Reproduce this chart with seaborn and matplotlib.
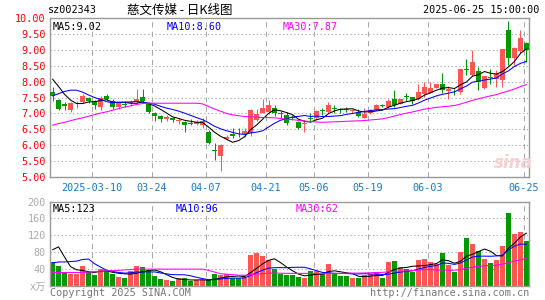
import numpy as np
import pandas as pd
import matplotlib
matplotlib.use("Agg")
import matplotlib.pyplot as plt
import seaborn as sns

# ---------------- data ----------------
opens = [7.68, 7.42, 7.30, 7.10, 7.28, 7.37, 7.49, 7.35, 7.21, 7.56,
         7.40, 7.20, 7.30, 7.32, 7.38, 7.50, 7.29, 7.00, 6.91, 6.83,
         6.84, 6.75, 6.74, 6.71, 6.68, 6.63, 6.42, 5.86, 5.66, 6.18,
         6.35, 6.36, 6.34, 6.37, 6.80, 7.02, 7.03, 7.16, 7.00, 6.95,
         6.88, 6.74, 6.68, 6.86, 6.87, 7.10, 7.05, 7.15, 7.12, 7.13,
         7.06, 7.05, 6.86, 7.00, 7.12, 7.25, 7.19, 7.44, 7.31, 7.53,
         7.50, 7.44, 7.60, 7.65, 7.81, 7.92, 7.70, 7.71, 7.68, 8.41,
         8.21, 8.34, 7.81, 8.14, 8.08, 8.05, 9.63, 8.74, 8.95, 9.22]
highs = [7.82, 7.45, 7.37, 7.36, 7.40, 7.60, 7.52, 7.42, 7.55, 7.60,
         7.45, 7.35, 7.40, 7.42, 7.78, 7.78, 7.35, 7.05, 6.95, 6.94,
         6.90, 6.84, 6.77, 6.81, 6.80, 6.87, 6.47, 6.08, 6.05, 6.32,
         6.55, 6.55, 6.55, 7.13, 7.14, 7.44, 7.42, 7.25, 7.07, 7.05,
         6.95, 6.76, 6.79, 7.02, 7.10, 7.18, 7.35, 7.26, 7.18, 7.20,
         7.15, 7.15, 7.16, 7.15, 7.28, 7.31, 7.45, 7.73, 7.46, 7.63,
         7.52, 7.92, 8.00, 8.00, 7.94, 8.26, 7.86, 7.78, 8.40, 8.70,
         9.00, 8.45, 8.19, 8.39, 8.37, 9.04, 9.91, 9.08, 9.62, 9.23]
lows = [7.40, 7.10, 7.10, 7.05, 7.18, 7.33, 7.33, 7.15, 7.12, 7.43,
        7.13, 7.15, 7.20, 7.23, 7.32, 7.36, 7.00, 6.77, 6.72, 6.75,
        6.72, 6.66, 6.42, 6.62, 6.62, 6.55, 6.05, 5.53, 5.19, 6.15,
        6.24, 6.25, 6.25, 6.30, 6.75, 7.00, 6.98, 6.93, 6.86, 6.63,
        6.80, 6.52, 6.42, 6.73, 6.80, 6.95, 7.00, 7.00, 7.00, 7.03,
        7.02, 6.90, 6.85, 6.98, 7.10, 7.19, 7.17, 7.21, 7.29, 7.40,
        7.30, 7.42, 7.52, 7.63, 7.79, 7.63, 7.44, 7.58, 7.62, 8.20,
        8.18, 7.73, 7.78, 7.94, 7.82, 7.84, 8.53, 8.52, 8.89, 8.63]
closes = [7.55, 7.15, 7.22, 7.32, 7.31, 7.55, 7.40, 7.27, 7.47, 7.46,
          7.20, 7.32, 7.27, 7.35, 7.45, 7.40, 7.05, 6.92, 6.82, 6.88,
          6.79, 6.80, 6.63, 6.66, 6.73, 6.76, 6.08, 5.82, 6.02, 6.26,
          6.28, 6.34, 6.44, 7.11, 6.99, 7.18, 7.27, 7.01, 6.97, 6.70,
          6.85, 6.55, 6.70, 6.83, 7.08, 7.08, 7.27, 7.13, 7.10, 7.12,
          7.11, 6.92, 6.98, 7.12, 7.26, 7.23, 7.40, 7.27, 7.44, 7.51,
          7.40, 7.68, 7.84, 7.81, 7.92, 7.73, 7.76, 7.69, 8.39, 8.38,
          8.63, 8.00, 8.18, 8.12, 8.25, 9.02, 8.74, 9.05, 9.37, 8.98]
volumes = [55, 46, 33, 27, 27, 46, 31, 25, 39, 35,
           27, 20, 18, 35, 46, 44, 36, 23, 15, 12,
           10, 17, 17, 10, 12, 12, 12, 27, 25, 27,
           17, 17, 20, 72, 77, 70, 60, 39, 27, 25,
           25, 20, 18, 35, 35, 27, 51, 27, 23, 23,
           18, 18, 25, 27, 32, 18, 56, 58, 44, 39,
           32, 60, 62, 56, 51, 77, 49, 32, 79, 112,
           100, 81, 62, 53, 60, 95, 173, 123, 128, 105]

# moving-average values before enough days are visible
ma5_head = [8.08, 7.85, 7.60, 7.42]
ma10_head = [7.55, 7.62, 7.69, 7.73, 7.73, 7.67, 7.58, 7.50, 7.44]
ma30_head = [6.63, 6.68, 6.72, 6.77, 6.82, 6.86, 6.91, 6.96, 7.01, 7.05,
             7.10, 7.15, 7.20, 7.24, 7.28, 7.31, 7.32, 7.32, 7.32, 7.32,
             7.32, 7.32, 7.32, 7.32, 7.32, 7.30, 7.22, 7.14, 7.07]
vma5_head = [85, 92, 68, 45]
vma10_head = [54, 56, 56, 57, 58, 62, 63, 52, 44]
vma30_head = [31, 31, 31, 31, 31, 31, 32, 33, 34, 35,
              35, 36, 37, 38, 39, 39, 39, 39, 39, 39,
              39, 39, 39, 39, 39, 39, 36, 32, 28]

# legend texts as printed on the chart
price_legend = ["MA5:9.02", "MA10:8.60", "MA30:7.87"]
vol_legend = ["MA5:123", "MA10:96", "MA30:62"]

tick_idx = [7, 17, 26, 36, 44, 53, 63, 79]
tick_labels = ["2025-03-10", "03-24", "04-07", "04-21", "05-06", "05-19", "06-03", "06-25"]
price_ticks = [5.0, 5.5, 6.0, 6.5, 7.0, 7.5, 8.0, 8.5, 9.0, 9.5, 10.0]
vol_ticks = [0, 40, 80, 120, 160, 200]
vol_tick_labels = ["x万", "40", "80", "120", "160", "200"]

# ---------------- derived ----------------
n = len(closes)
idx = np.arange(n)
df = pd.DataFrame({"i": idx, "open": opens, "high": highs, "low": lows,
                   "close": closes, "vol": volumes})


def moving(series, w, head):
    m = series.rolling(w).mean().to_numpy()
    m[:len(head)] = head
    return m


df["ma5"] = moving(df["close"], 5, ma5_head)
df["ma10"] = moving(df["close"], 10, ma10_head)
df["ma30"] = moving(df["close"], 30, ma30_head)
df["vma5"] = moving(df["vol"], 5, vma5_head)
df["vma10"] = moving(df["vol"], 10, vma10_head)
df["vma30"] = moving(df["vol"], 30, vma30_head)

RED = "#ff5555"
GREEN = "#009900"
up = df["close"] >= df["open"]
colors = np.where(up, RED, GREEN)

# ---------------- figure ----------------
sns.set_style("white")
plt.rcParams["font.family"] = ["DejaVu Sans Mono", "Noto Sans CJK SC"]

W, H = 545, 300
fig = plt.figure(figsize=(W / 100, H / 100), dpi=100)
fig.patch.set_facecolor("white")


def fx(px):
    return px / W


def fy(py):
    return 1 - py / H


ax = fig.add_axes([fx(50), fy(177), fx(529) - fx(50), fy(18) - fy(177)])
axv = fig.add_axes([fx(50), fy(285.5), fx(529) - fx(50), fy(201.5) - fy(285.5)])

xmin, xmax = -0.4167, n - 1 + 0.4167
GRID = "#a8a8a8"
LW = 0.75
for a in (ax, axv):
    a.set_xlim(xmin, xmax)
    for s in a.spines.values():
        s.set_color("#999999")
        s.set_linewidth(1.0)
    for t in tick_idx:
        a.axvline(t - 0.4167, color=GRID, lw=LW, ls=(0, (5, 4)), zorder=0)

ax.set_ylim(5.0, 10.0)
for y in price_ticks[1:-1]:
    ax.axhline(y, color=GRID, lw=LW, ls=(0, (1.2, 2.4)), zorder=0)
axv.set_ylim(0, 200)
for y in vol_ticks[1:-1]:
    axv.axhline(y, color=GRID, lw=LW, ls=(0, (1.2, 2.4)), zorder=0)

# candles
body_lo = np.minimum(df["open"], df["close"])
body_h = np.maximum(np.abs(df["close"] - df["open"]), 0.025)
ax.vlines(df["i"], df["low"], df["high"], colors=colors, lw=LW, zorder=2)
ax.bar(df["i"], body_h, bottom=body_lo, width=0.8, color=colors, lw=0, zorder=3)

sns.lineplot(data=df, x="i", y="ma5", color="black", lw=LW, ax=ax, zorder=4)
sns.lineplot(data=df, x="i", y="ma10", color="#0000ff", lw=LW, ax=ax, zorder=4)
sns.lineplot(data=df, x="i", y="ma30", color="#ff00ff", lw=LW, ax=ax, zorder=4)

# volume
axv.bar(df["i"], df["vol"], width=0.8, color=colors, lw=0, zorder=2)
sns.lineplot(data=df, x="i", y="vma5", color="black", lw=LW, ax=axv, zorder=4)
sns.lineplot(data=df, x="i", y="vma10", color="#0000ff", lw=LW, ax=axv, zorder=4)
sns.lineplot(data=df, x="i", y="vma30", color="#ff00ff", lw=LW, ax=axv, zorder=4)

for a in (ax, axv):
    a.set_xlabel("")
    a.set_ylabel("")

FS = 7.3
ax.set_yticks(price_ticks)
ax.set_yticklabels([f"{v:.2f}" for v in price_ticks])
ax.tick_params(axis="y", length=0, pad=3, labelsize=FS, labelcolor="red")
ax.set_xticks([t - 0.4167 for t in tick_idx])
ax.set_xticklabels(tick_labels)
ax.tick_params(axis="x", length=0, pad=4, labelsize=FS, labelcolor="#1a78c2")

axv.set_yticks(vol_ticks)
axv.set_yticklabels(vol_tick_labels)
axv.tick_params(axis="y", length=0, pad=3, labelsize=FS, labelcolor="#aaaaaa")
axv.set_xticks([])

# legends / titles
leg_cols = ["black", "#0000ff", "#ff00ff"]
for txt, xp, c in zip(price_legend, [0.006, 0.243, 0.485], leg_cols):
    ax.text(xp, 0.975, txt, transform=ax.transAxes, color=c, fontsize=FS, va="top", ha="left")
for txt, xp, c in zip(vol_legend, [0.006, 0.262, 0.512], leg_cols):
    axv.text(xp, 0.97, txt, transform=axv.transAxes, color=c, fontsize=FS, va="top", ha="left")

fig.text(fx(48), fy(10), "sz002343", fontsize=FS, color="black", va="center", ha="left")
fig.text(fx(180), fy(10), "慈文传媒 - 日K线图", fontsize=9, color="black", va="center",
         ha="center", family=["Noto Sans CJK SC", "DejaVu Sans"])
fig.text(fx(539), fy(10), "2025-06-25 15:00:00", fontsize=FS, color="black", va="center",
         ha="right")
fig.text(fx(50), fy(293), "Copyright 2025 SINA.COM", fontsize=FS, color="#777777",
         va="center", ha="left")
fig.text(fx(529), fy(293), "http://finance.sina.com.cn", fontsize=FS, color="#777777",
         va="center", ha="right")
fig.text(fx(513), fy(163), "sina", fontsize=12, color="#f6d0d0", va="center", ha="center",
         style="italic", weight="bold", family="DejaVu Sans", zorder=0)

fig.savefig("out.png", dpi=100, facecolor="white")
